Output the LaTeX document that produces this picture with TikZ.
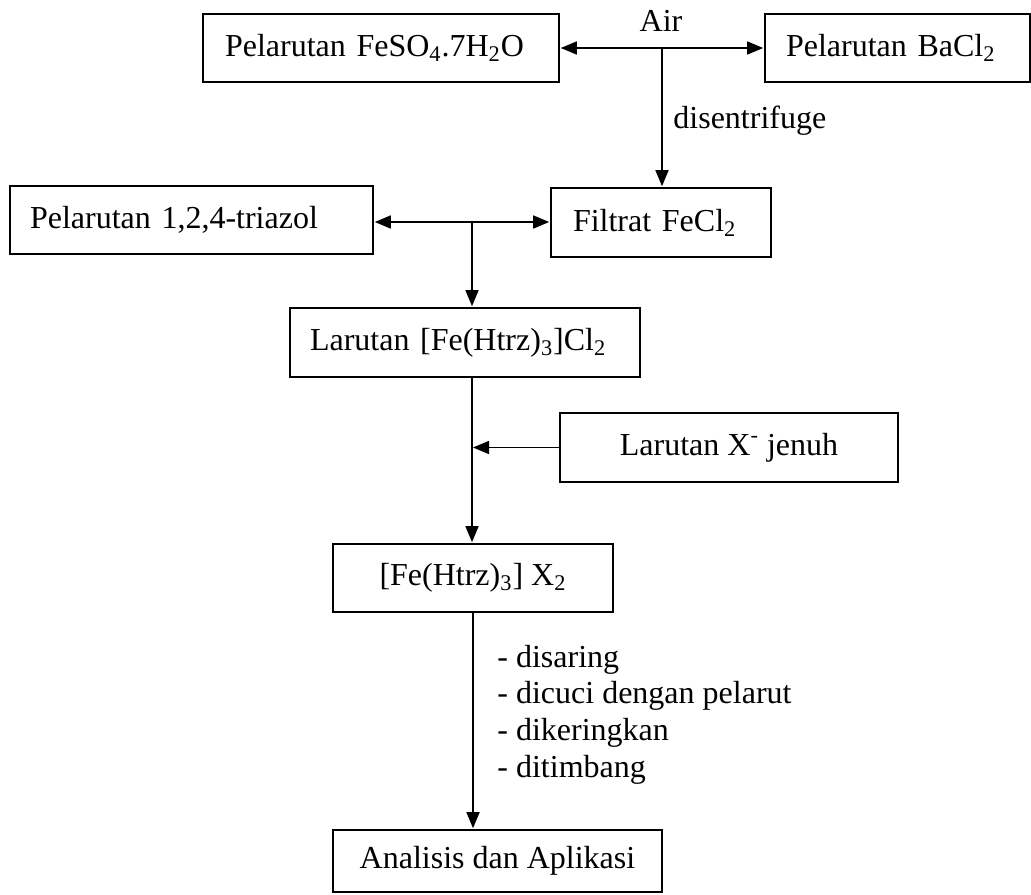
\documentclass[tikz,border=0pt]{standalone}
\usepackage{fontspec}
\setmainfont{Liberation Serif}
\usetikzlibrary{arrows.meta,calc}
\tikzset{
  box/.style={draw, line width=0.8pt, inner ysep=0pt},
  lbox/.style={box, align=left},
  cbox/.style={box, align=center},
  arr/.style={line width=0.8pt, -{Triangle[length=8pt,width=6.5pt]}, shorten >=0.5pt},
  darr/.style={line width=0.8pt, {Triangle[length=8pt,width=6.5pt]}-{Triangle[length=8pt,width=6.5pt]}, shorten >=0.5pt, shorten <=0.5pt},
  lbl/.style={inner sep=0pt}
}
\begin{document}
\begin{tikzpicture}[x=0.5pt,y=-0.5pt,font=\fontsize{16}{18.3}\selectfont]
\useasboundingbox (0,0) rectangle (1031,894);
% boxes
\node[lbox, minimum width=178pt, minimum height=34pt, inner xsep=11pt, text width=156pt] (b1) at (381,48) {Pelarutan FeSO\textsubscript{4}.7H\textsubscript{2}O};
\node[lbox, minimum width=132.5pt, minimum height=34pt, inner xsep=10.5pt, text width=111.5pt] (b2) at (897.5,48) {Pelarutan BaCl\textsubscript{2}};
\node[lbox, minimum width=181.5pt, minimum height=34pt, inner xsep=10pt, text width=161.5pt] (b3) at (191.5,220) {Pelarutan 1,2,4-triazol};
\node[lbox, minimum width=110pt, minimum height=34.5pt, inner xsep=11pt, text width=88pt] (b4) at (661,222.5) {Filtrat FeCl\textsubscript{2}};
\node[lbox, minimum width=175pt, minimum height=34.5pt, inner xsep=10pt, text width=155pt] (b5) at (465,342.5) {Larutan [Fe(Htrz)\textsubscript{3}]Cl\textsubscript{2}};
\node[cbox, minimum width=169pt, minimum height=34.5pt] (b6) at (729,447.5) {Larutan X\textsuperscript{-} jenuh};
\node[cbox, minimum width=140pt, minimum height=34pt] (b7) at (473,578) {[Fe(Htrz)\textsubscript{3}] X\textsubscript{2}};
\node[cbox, minimum width=164.5pt, minimum height=31pt] (b8) at (497.5,861) {Analisis dan Aplikasi};
% labels
\node[lbl, anchor=base] (air) at (661,32) {Air};
\node[lbl, anchor=base west] (dis) at (673,128) {disentrifuge};
\node[lbl, anchor=base west, align=left] (steps) at (497,777) {- disaring\\- dicuci dengan pelarut\\- dikeringkan\\- ditimbang};
% junctions
\coordinate (j1) at ($(b1.east)!0.5!(b2.west)$);
\coordinate (j2) at (472,222);
% connectors
\draw[darr] (b1) -- (b2);
\draw[arr] (j1) -- (j1 |- b4.north);
\draw[darr] (j2 -| b3.east) -- (j2 -| b4.west);
\draw[arr] (j2) -- (j2 |- b5.north);
\draw[arr] (j2 |- b5.south) -- (j2 |- b7.north);
\draw[arr] (b6.west) -- (b6.west -| j2);
\draw[arr] (b7.south) -- (b7.south |- b8.north);
\end{tikzpicture}
\end{document}
